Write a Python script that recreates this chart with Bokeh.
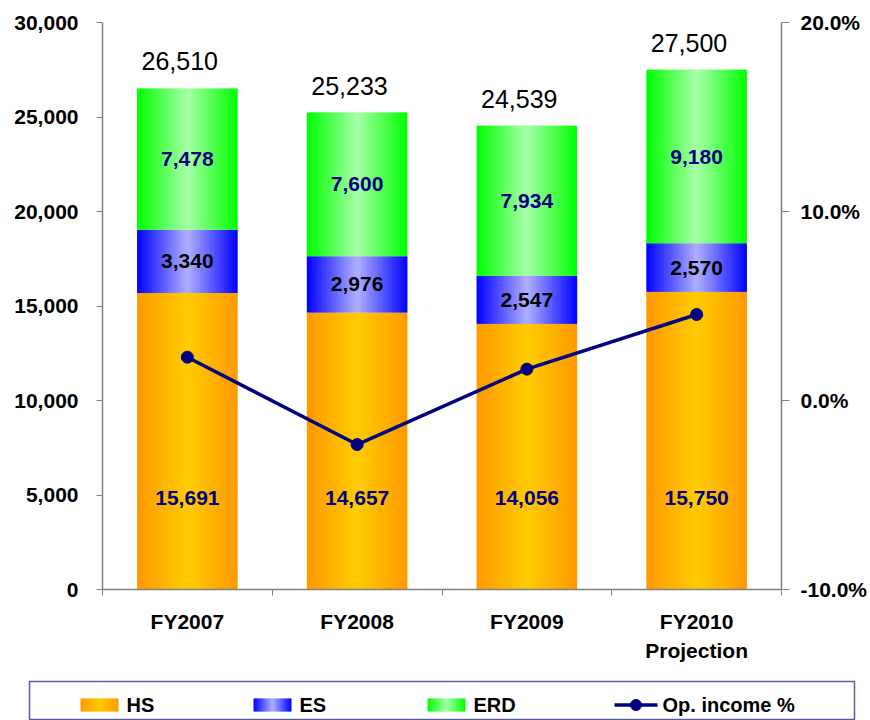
import numpy as np
from bokeh.plotting import figure
from bokeh.models import (Range1d, LinearAxis, FixedTicker, NumeralTickFormatter,
                          ColumnDataSource)
from bokeh.layouts import column
from bokeh.core.properties import value
from bokeh.embed import file_html
from bokeh.resources import INLINE

# ---------------- data ----------------
categories = ["FY2007", "FY2008", "FY2009", "FY2010\nProjection"]
hs = [15691, 14657, 14056, 15750]
es = [3340, 2976, 2547, 2570]
erd = [7478, 7600, 7934, 9180]
totals = [26510, 25233, 24539, 27500]
op_income = [0.0229, -0.0233, 0.0166, 0.0455]
left_ticks = [0, 5000, 10000, 15000, 20000, 25000, 30000]
right_ticks = [-0.10, 0.0, 0.10, 0.20]
series_names = ["HS", "ES", "ERD", "Op. income %"]

# ---------------- style ----------------
FONT = "Liberation Sans"
NAVY = "#000080"
AXIS_GRAY = "#808080"
BAR_W = 0.593
N_STRIPS = 40
HS_LABEL_Y = 4850
GRADS = {
    "HS": ("#FF9900", "#FFCC00"),
    "ES": ("#0000FF", "#B0B0FF"),
    "ERD": ("#00FF00", "#A8FFA8"),
}


def hex2rgb(h):
    h = h.lstrip("#")
    return np.array([int(h[i:i + 2], 16) for i in (0, 2, 4)], dtype=float)


def grad_colors(edge, center, n):
    e, c = hex2rgb(edge), hex2rgb(center)
    out = []
    for i in range(n):
        t = 1 - abs((i + 0.5) / n * 2 - 1)
        rgb = e + (c - e) * t
        out.append("#%02x%02x%02x" % tuple(int(round(v)) for v in rgb))
    return out


def strip_source(xcs, bottoms, tops, width, edge, center, n=N_STRIPS):
    cols = grad_colors(edge, center, n)
    d = dict(left=[], right=[], bottom=[], top=[], color=[])
    sw = width / n
    for xc, b, t in zip(xcs, bottoms, tops):
        for i in range(n):
            l = xc - width / 2 + i * sw
            r = l + sw * (1.6 if i < n - 1 else 1.0)
            d["left"].append(l)
            d["right"].append(r)
            d["bottom"].append(b)
            d["top"].append(t)
            d["color"].append(cols[i])
    return ColumnDataSource(d)


x = list(range(len(categories)))
hs_top = list(hs)
es_top = [a + b for a, b in zip(hs, es)]
erd_top = [a + b for a, b in zip(es_top, erd)]

p = figure(width=870, height=680, x_range=Range1d(-0.5, 3.5), y_range=Range1d(0, 30000),
           output_backend="svg", toolbar_location=None,
           min_border_left=102, min_border_right=87, min_border_top=22, min_border_bottom=91)
p.frame_align = False
p.extra_y_ranges = {"pct": Range1d(-0.10, 0.20)}
p.xgrid.visible = False
p.ygrid.visible = False
p.outline_line_color = None
p.background_fill_color = "white"

# stacked bars with horizontal gradients
for name, bots, tps in (("HS", [0] * 4, hs_top), ("ES", hs_top, es_top), ("ERD", es_top, erd_top)):
    src = strip_source(x, bots, tps, BAR_W, *GRADS[name])
    p.quad(left="left", right="right", bottom="bottom", top="top", source=src,
           fill_color="color", line_color=None)

# labels inside bars
lab = ColumnDataSource(dict(
    x=x,
    hs_y=[HS_LABEL_Y] * 4,
    es_y=[a + b / 2 for a, b in zip(hs_top, es)],
    erd_y=[a + b / 2 for a, b in zip(es_top, erd)],
    tot_y=erd_top,
    tot_x=[v - 0.045 for v in x],
    hs_t=[f"{v:,}" for v in hs],
    es_t=[f"{v:,}" for v in es],
    erd_t=[f"{v:,}" for v in erd],
    tot_t=[f"{v:,}" for v in totals],
))
for ycol, tcol, col in (("hs_y", "hs_t", NAVY), ("es_y", "es_t", "black"), ("erd_y", "erd_t", NAVY)):
    p.text(x="x", y=ycol, text=tcol, source=lab, text_font=value(FONT), text_font_style="bold",
           text_font_size="21px", text_color=col, text_align="center", text_baseline="middle")
p.text(x="tot_x", y="tot_y", text="tot_t", source=lab, text_font=value(FONT),
       text_font_size="25px", text_color="black", text_align="center",
       text_baseline="middle", y_offset=-27)

# line on right axis
p.line(x, op_income, y_range_name="pct", line_color=NAVY, line_width=3.5)
p.scatter(x, op_income, y_range_name="pct", size=12, fill_color=NAVY, line_color=NAVY)

# axes
xa = p.xaxis[0]
xa.ticker = FixedTicker(ticks=x, minor_ticks=[v - 0.5 for v in x] + [x[-1] + 0.5])
xa.major_label_overrides = {float(i): c for i, c in zip(x, categories)}
xa.major_tick_in = 0
xa.major_tick_out = 0
xa.minor_tick_in = 0
xa.minor_tick_out = 6
xa.minor_tick_line_color = AXIS_GRAY
xa.axis_line_color = AXIS_GRAY
xa.axis_line_width = 1.5
xa.major_label_standoff = 14
xa.major_label_text_font = FONT
xa.major_label_text_font_style = "bold"
xa.major_label_text_font_size = "21px"
xa.major_label_text_color = "black"
xa.major_label_text_line_height = 1.3

ya = p.yaxis[0]
ya.ticker = FixedTicker(ticks=left_ticks, minor_ticks=[])
ya.formatter = NumeralTickFormatter(format="0,0")
ya.major_tick_in = 0
ya.major_tick_out = 6
ya.minor_tick_out = 0
ya.major_tick_line_color = AXIS_GRAY
ya.axis_line_color = AXIS_GRAY
ya.axis_line_width = 1.5
ya.major_label_standoff = 18
ya.major_label_text_font = FONT
ya.major_label_text_font_style = "bold"
ya.major_label_text_font_size = "21px"
ya.major_label_text_color = "black"

ra = LinearAxis(y_range_name="pct")
ra.ticker = FixedTicker(ticks=right_ticks, minor_ticks=[])
ra.formatter = NumeralTickFormatter(format="0.0%")
ra.major_tick_in = 0
ra.major_tick_out = 8
ra.minor_tick_out = 0
ra.major_tick_line_color = AXIS_GRAY
ra.axis_line_color = AXIS_GRAY
ra.axis_line_width = 1.5
ra.major_label_standoff = 11
ra.major_label_text_font = FONT
ra.major_label_text_font_style = "bold"
ra.major_label_text_font_size = "21px"
ra.major_label_text_color = "black"
p.add_layout(ra, "right")

# ---------------- legend (separate strip below) ----------------
lf = figure(width=870, height=40, x_range=Range1d(0, 825), y_range=Range1d(39, 0),
            output_backend="svg", toolbar_location=None,
            x_axis_location=None, y_axis_location=None,
            min_border_left=29, min_border_right=16, min_border_top=1, min_border_bottom=0)
lf.frame_align = False
lf.grid.visible = False
lf.outline_line_color = "#5B5BAA"
lf.outline_line_width = 1.5

SW_X = [51, 224, 398]
SW_W = 38
SW_TOP, SW_BOT = 17, 30
LY = (SW_TOP + SW_BOT) / 2
for name, sx in zip(series_names[:3], SW_X):
    src = strip_source([sx + SW_W / 2], [SW_BOT], [SW_TOP], SW_W, *GRADS[name], n=20)
    lf.quad(left="left", right="right", bottom="bottom", top="top", source=src,
            fill_color="color", line_color=None)
lf.text(x=[sx + SW_W + 8 for sx in SW_X], y=[LY] * 3, text=series_names[:3],
        text_font=value(FONT), text_font_style="bold", text_font_size="20px",
        text_color="black", text_baseline="middle", text_align="left")
LX0, LX1 = 585, 628
lf.line([LX0, LX1], [LY, LY], line_color=NAVY, line_width=3.5)
lf.scatter([(LX0 + LX1) / 2], [LY], size=11, fill_color=NAVY, line_color=NAVY)
lf.text(x=[LX1 + 5], y=[LY], text=[series_names[3]], text_font=value(FONT),
        text_font_style="bold", text_font_size="20px", text_color="black",
        text_baseline="middle", text_align="left")

layout = column(p, lf)
open("out.html", "w").write(file_html(layout, INLINE))
